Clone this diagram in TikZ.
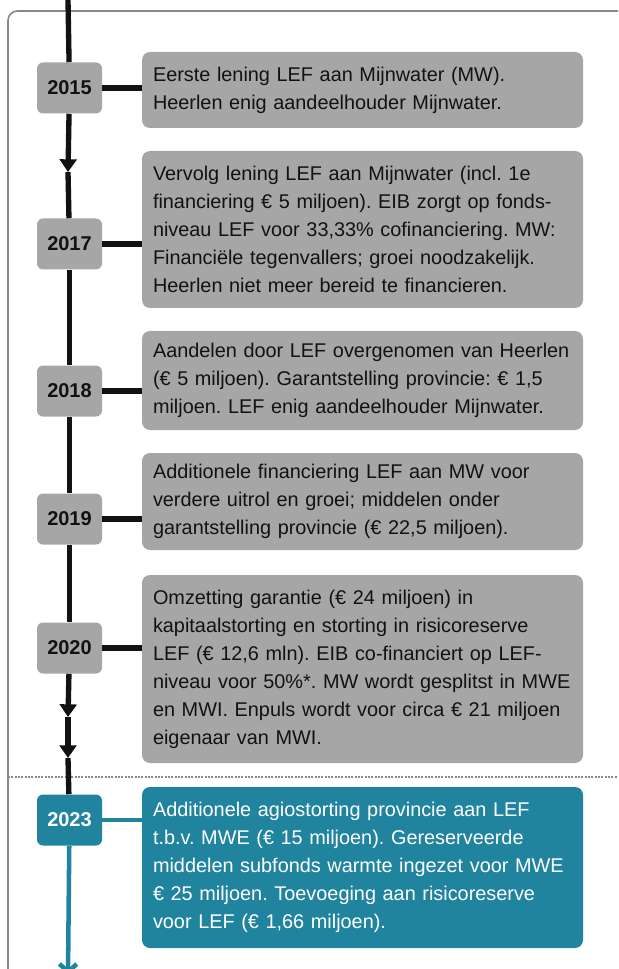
\documentclass[tikz,border=0pt]{standalone}
\usepackage{fontspec}
\setmainfont{Liberation Sans}
\usepackage{xcolor}
\usetikzlibrary{arrows.meta}
\frenchspacing

\definecolor{boxgray}{HTML}{A6A6A6}
\definecolor{mwblue}{HTML}{21849F}
\definecolor{framegray}{HTML}{888888}
\definecolor{inkblack}{HTML}{121212}

\begin{document}
\begin{tikzpicture}[x=0.75pt,y=-0.75pt,
    yearbox/.style={fill=boxgray,rounded corners=4.5pt,minimum width=48.75pt,
      minimum height=38.25pt,inner sep=0pt,text=inkblack,
      font=\fontsize{15}{17}\selectfont\bfseries},
    textbox/.style={fill=boxgray,rounded corners=6pt,text width=314.25pt,
      inner xsep=8.25pt,inner ysep=0pt,align=left,text=inkblack,
      font=\fontsize{14.9}{21}\selectfont},
    tline/.style={line width=4pt,inkblack},
    bline/.style={line width=3.4pt,mwblue},
    midarrow/.style={-{Triangle[length=9.5pt,width=12.5pt]}}]

          \useasboundingbox (0,0) rectangle (618,969);
          \clip (0,0) rectangle (618,969);

          % frame and separator
          \draw[framegray,line width=1.2pt,rounded corners=7pt] (8,11) rectangle (660,1010);
          \draw[framegray,line width=0.8pt,dash pattern=on 1.5pt off 1pt] (8,777) -- (618,777);

          \coordinate (top) at (68,0);
          \coordinate (a1) at (68,172);
          \coordinate (a2) at (68,717);
          \coordinate (a3) at (68,758);
          \coordinate (end) at (68,975);

          % years
          \node[yearbox] (y2015) at (69.5,88) {2015};
          \node[yearbox] (y2017) at (69.5,244) {2017};
          \node[yearbox] (y2018) at (69.5,391) {2018};
          \node[yearbox] (y2019) at (69.5,519) {2019};
          \node[yearbox] (y2020) at (69.5,648) {2020};
          \node[yearbox,fill=mwblue,text=white] (y2023) at (69.5,820) {2023};

          % events
          \node[textbox,minimum height=57pt] (t2015) at (362.5,90)
            {Eerste lening LEF aan Mijnwater (MW).\\
             Heerlen enig aandeelhouder Mijnwater.};
          \node[textbox,minimum height=117.75pt] (t2017) at (362.5,229.5)
            {Vervolg lening LEF aan Mijnwater (incl. 1e\\
             financiering € 5 miljoen). EIB zorgt op fonds-\\
             niveau LEF voor 33,33\% cofinanciering. MW:\\
             Financiële tegenvallers; groei noodzakelijk.\\
             Heerlen niet meer bereid te financieren.};
          \node[textbox,minimum height=74.25pt] (t2018) at (362.5,380.5)
            {Aandelen door LEF overgenomen van Heerlen\\
             (€ 5 miljoen). Garantstelling provincie: € 1,5\\
             miljoen. LEF enig aandeelhouder Mijnwater.};
          \node[textbox,minimum height=72.75pt] (t2019) at (362.5,501.5)
            {Additionele financiering LEF aan MW voor\\
             verdere uitrol en groei; middelen onder\\
             garantstelling provincie (€ 22,5 miljoen).};
          \node[textbox,minimum height=141pt] (t2020) at (362.5,669)
            {Omzetting garantie (€ 24 miljoen) in\\
             kapitaalstorting en storting in risicoreserve\\
             LEF (€ 12,6 mln). EIB co-financiert op LEF-\\
             niveau voor 50\%*. MW wordt gesplitst in MWE\\
             en MWI. Enpuls wordt voor circa € 21 miljoen\\
             eigenaar van MWI.};
          \node[textbox,fill=mwblue,text=white,minimum height=120.75pt] (t2023) at (362.5,867.5)
            {Additionele agiostorting provincie aan LEF\\
             t.b.v. MWE (€ 15 miljoen). Gereserveerde\\
             middelen subfonds warmte ingezet voor MWE\\
             € 25 miljoen. Toevoeging aan risicoreserve\\
             voor LEF (€ 1,66 miljoen).};

          % time line
          \draw[tline] (top) -- (y2015);
          \draw[tline,midarrow] (y2015) -- (a1);
          \draw[tline] (a1) -- (y2017);
          \draw[tline] (y2017) -- (y2018);
          \draw[tline] (y2018) -- (y2019);
          \draw[tline] (y2019) -- (y2020);
          \draw[tline,midarrow] (y2020) -- (a2);
          \draw[tline,midarrow] (a2) -- (a3);
          \draw[tline] (a3) -- (y2023);
          \draw[bline,-{Straight Barb[length=6pt,width=13pt]}] (y2023) -- (end);

          % year to event
          \draw[tline] (y2015.east) -- (y2015.east -| t2015.west);
          \draw[tline] (y2017.east) -- (y2017.east -| t2017.west);
          \draw[tline] (y2018.east) -- (y2018.east -| t2018.west);
          \draw[tline] (y2019.east) -- (y2019.east -| t2019.west);
          \draw[tline] (y2020.east) -- (y2020.east -| t2020.west);
          \draw[bline,line width=2.4pt] (y2023.east) -- (y2023.east -| t2023.west);

\end{tikzpicture}
\end{document}
